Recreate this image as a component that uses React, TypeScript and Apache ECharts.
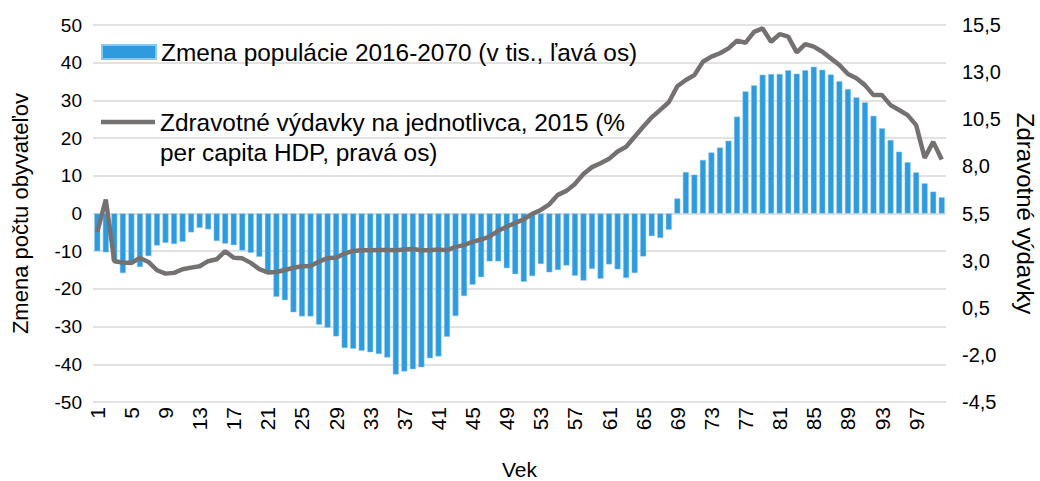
import React, { useEffect, useRef } from "react";
import * as echarts from "echarts";

const ages: string[] = Array.from({ length: 100 }, (_, i) => String(i + 1));

const populationChange: number[] = [
  -10.0, -10.3, -12.5, -15.8, -13.5, -14.2, -11.3, -8.5, -7.8, -8.1,
  -7.5, -5.0, -3.8, -4.2, -7.3, -8.0, -8.4, -9.8, -10.4, -11.5,
  -15.9, -22.1, -23.0, -26.2, -27.3, -27.3, -29.5, -30.3, -32.6, -35.7,
  -35.9, -36.4, -36.8, -37.3, -38.2, -42.7, -41.9, -41.3, -40.8, -38.4,
  -37.9, -32.7, -27.2, -21.9, -18.9, -16.9, -12.7, -12.7, -14.5, -16.1,
  -18.1, -16.6, -13.4, -15.6, -15.0, -13.8, -16.5, -17.8, -14.7, -17.3,
  -13.5, -14.8, -17.1, -15.8, -11.4, -6.0, -6.5, -4.3, 4.0, 11.0,
  10.3, 14.2, 16.2, 17.5, 19.3, 25.7, 32.4, 34.0, 36.8, 37.0,
  37.0, 38.0, 37.1, 38.0, 38.9, 38.1, 36.9, 35.1, 33.0, 30.8,
  29.5, 25.9, 22.6, 19.5, 16.4, 13.6, 10.9, 8.0, 5.8, 4.3,
];

const healthSpending: number[] = [
  4.52, 6.24, 2.97, 2.9, 2.88, 3.14, 2.93, 2.49, 2.31, 2.35,
  2.54, 2.63, 2.7, 2.97, 3.07, 3.5, 3.15, 3.12, 2.88, 2.55,
  2.37, 2.4, 2.5, 2.62, 2.7, 2.72, 2.95, 3.13, 3.16, 3.38,
  3.51, 3.55, 3.55, 3.57, 3.57, 3.55, 3.59, 3.62, 3.55, 3.55,
  3.59, 3.55, 3.73, 3.82, 4.0, 4.12, 4.28, 4.58, 4.8, 5.0,
  5.19, 5.48, 5.69, 5.99, 6.49, 6.7, 7.07, 7.6, 7.96, 8.17,
  8.4, 8.79, 9.04, 9.57, 10.1, 10.6, 11.0, 11.4, 12.25, 12.58,
  12.84, 13.55, 13.82, 14.0, 14.26, 14.67, 14.56, 15.14, 15.32, 14.61,
  15.02, 14.88, 14.05, 14.49, 14.35, 14.08, 13.73, 13.38, 12.9, 12.67,
  12.31, 11.78, 11.78, 11.25, 10.99, 10.72, 10.19, 8.45, 9.3, 8.37,
];

const rightTicks: number[] = [-4.5, -2, 0.5, 3, 5.5, 8, 10.5, 13, 15.5];

const barName = "Zmena populácie 2016-2070 (v tis., ľavá os)";
const lineName = "Zdravotné výdavky na jednotlivca, 2015 (%\nper capita HDP, pravá os)";

const FONT = "Liberation Sans";
const BAR_COLOR = "#2E9BDE";
const LINE_COLOR = "#767171";

export default function App() {
  const ref = useRef<HTMLDivElement>(null);

  useEffect(() => {
    document.body.style.margin = "0";
    if (!ref.current) return;
    const chart = echarts.init(ref.current, null, { renderer: "svg" });
    chart.setOption({
      animation: false,
      textStyle: { fontFamily: FONT },
      grid: {
        left: 93,
        right: 94,
        top: 25,
        bottom: 79,
        containLabel: false,
        outerBoundsMode: "none",
      },
      legend: [
        {
          data: [{ name: barName, icon: "rect" }],
          left: 96,
          top: 35,
          itemWidth: 54,
          itemHeight: 14,
          textStyle: { fontSize: 24.4, color: "#000", fontFamily: FONT },
        },
        {
          data: [{ name: lineName, icon: "rect", itemStyle: { color: LINE_COLOR } }],
          left: 96,
          top: 72,
          itemWidth: 54,
          itemHeight: 4.5,
          formatter: (name: string) => "\n" + name,
          textStyle: {
            fontSize: 24.4,
            color: "#000",
            fontFamily: FONT,
            lineHeight: 30,
          },
        },
      ],
      xAxis: {
        type: "category",
        data: ages,
        name: "Vek",
        nameLocation: "middle",
        nameGap: 57,
        nameTextStyle: { fontSize: 21, color: "#000" },
        axisLine: { show: false },
        axisTick: { show: false },
        axisLabel: { interval: 3, rotate: 90, fontSize: 21, color: "#000", margin: 5 },
      },
      yAxis: [
        {
          type: "value",
          min: -50,
          max: 50,
          interval: 10,
          name: "Zmena počtu obyvateľov",
          nameLocation: "middle",
          nameRotate: 90,
          nameGap: 62,
          nameTextStyle: { fontSize: 22, color: "#000" },
          axisLine: { show: false },
          axisTick: { show: false },
          axisLabel: { fontSize: 19, color: "#000", margin: 11 },
          splitLine: { lineStyle: { color: "#D9D9D9", width: 1.5 } },
        },
        {
          type: "value",
          min: -4.5,
          max: 15.5,
          name: "Zdravotné výdavky",
          nameLocation: "middle",
          nameRotate: -90,
          nameGap: 67,
          nameTextStyle: { fontSize: 24, color: "#000" },
          axisLine: { show: false },
          axisTick: { show: false },
          splitLine: { show: false },
          axisLabel: {
            customValues: rightTicks,
            fontSize: 20,
            color: "#000",
            margin: 16,
            formatter: (v: number) => v.toFixed(1).replace(".", ","),
          },
        },
      ],
      series: [
        {
          name: barName,
          type: "bar",
          data: populationChange,
          yAxisIndex: 0,
          barCategoryGap: "30%",
          itemStyle: { color: BAR_COLOR, borderColor: "#8CC8EE", borderWidth: 0.5 },
        },
        {
          name: lineName,
          type: "line",
          data: healthSpending,
          yAxisIndex: 1,
          symbol: "none",
          lineStyle: { color: LINE_COLOR, width: 4.5 },
          itemStyle: { color: LINE_COLOR },
        },
      ],
    });
    return () => chart.dispose();
  }, []);

  return <div ref={ref} style={{ width: 1040, height: 481 }} />;
}
